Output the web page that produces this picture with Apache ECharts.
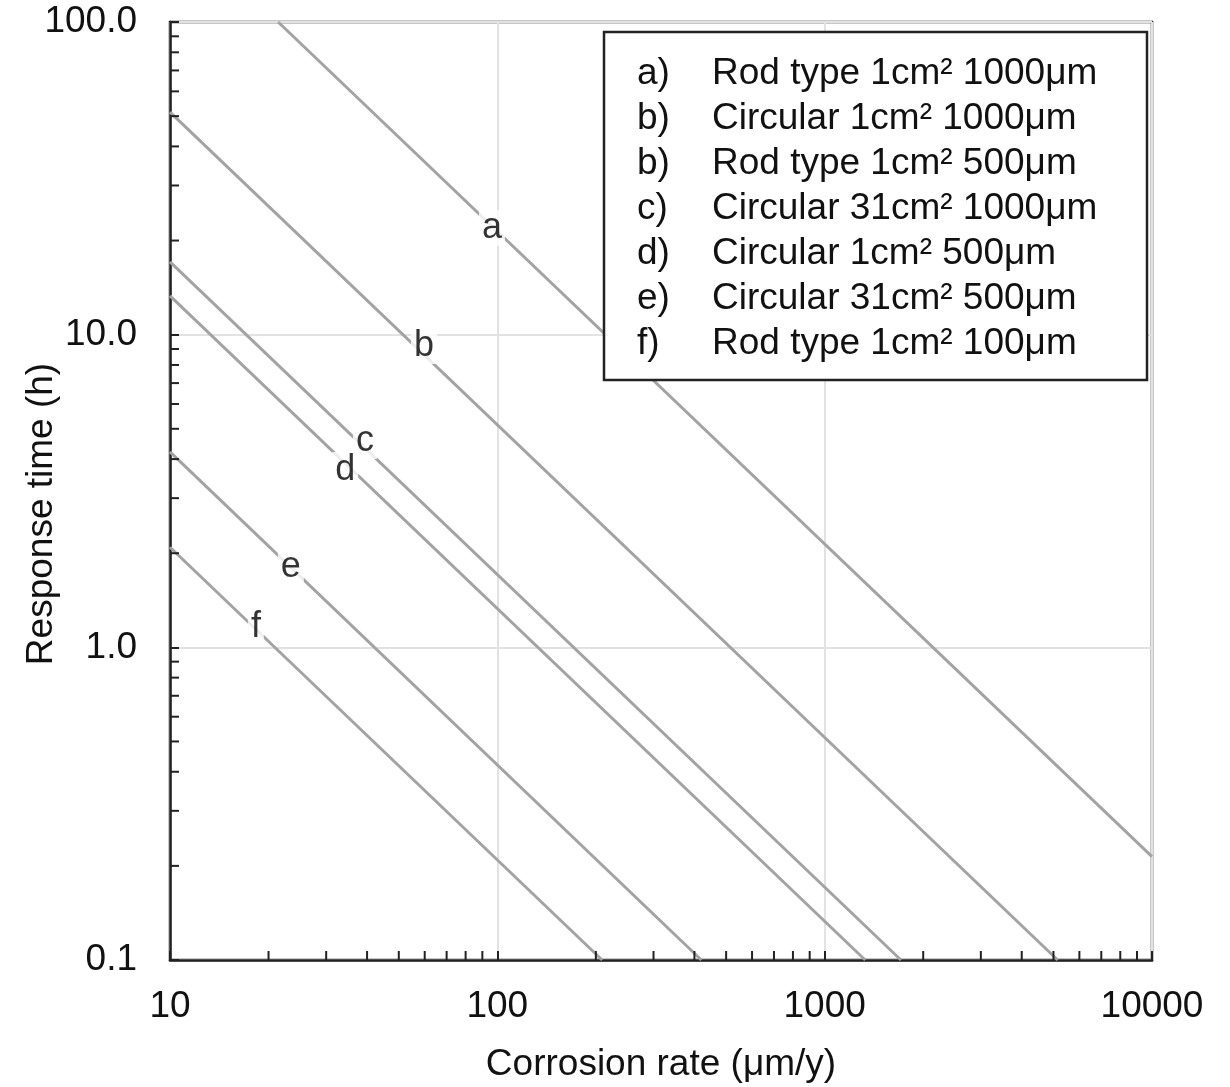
<!DOCTYPE html>
<html>
<head>
<meta charset="utf-8">
<script src="https://cdn.jsdelivr.net/npm/echarts@6/dist/echarts.min.js"></script>
<style>html,body{margin:0;padding:0;background:#fff;overflow:hidden}#c{width:1230px;height:1087px}</style>
</head>
<body>
<div id="c"></div>
<script>
// Line endpoints: [corrosion rate, response time]
const lineA = [[21.4, 100], [10000, 0.214]];
const lineB = [[10, 51.5], [5150, 0.1]];
const lineC = [[10, 17.1], [1710, 0.1]];
const lineD = [[10, 13.3], [1330, 0.1]];
const lineE = [[10, 4.22], [420, 0.1]];
const lineF = [[10, 2.09], [209, 0.1]];
const lineLetters = ['a', 'b', 'c', 'd', 'e', 'f'];
// Letter label positions on the lines
const letterPos = [[96.3, 21.9], [59.7, 9.2], [39.4, 4.57], [34.3, 3.69], [23.4, 1.81], [18.3, 1.16]];
const xTickLabels = ['10', '100', '1000', '10000'];
const yTickLabels = ['0.1', '1.0', '10.0', '100.0'];
const xMinorTicks = [20,30,40,50,60,70,80,90,200,300,400,500,600,700,800,900,2000,3000,4000,5000,6000,7000,8000,9000];
const yMinorTicks = [0.2,0.3,0.4,0.5,0.6,0.7,0.8,0.9,2,3,4,5,6,7,8,9,20,30,40,50,60,70,80,90];
const legendKeys = ['a)', 'b)', 'b)', 'c)', 'd)', 'e)', 'f)'];
const legendTexts = ['Rod type 1cm² 1000μm', 'Circular 1cm² 1000μm', 'Rod type 1cm² 500μm',
  'Circular 31cm² 1000μm', 'Circular 1cm² 500μm', 'Circular 31cm² 500μm', 'Rod type 1cm² 100μm'];

const FONT = 'Liberation Sans, Arial, sans-serif';
const chart = echarts.init(document.getElementById('c'));
const lines = [lineA, lineB, lineC, lineD, lineE, lineF];

const legendChildren = [{
  type: 'rect', z: 100, shape: {x: 0, y: 0, width: 543, height: 348},
  style: {fill: '#fff', stroke: '#222', lineWidth: 2.5}
}];
legendKeys.forEach((k, i) => {
  legendChildren.push({type: 'text', z: 101, x: 33, y: 42 + i * 45,
    style: {text: k, font: '37px ' + FONT, fill: '#111', verticalAlign: 'middle'}});
  legendChildren.push({type: 'text', z: 101, x: 108, y: 42 + i * 45,
    style: {text: legendTexts[i], font: '37px ' + FONT, fill: '#111', verticalAlign: 'middle'}});
});

const series = lines.map((d, i) => ({
  type: 'line', name: lineLetters[i], data: d, showSymbol: false, symbol: 'none',
  lineStyle: {color: '#a3a3a3', width: 3}, z: 3, silent: true
}));
series.push({
  type: 'scatter', symbolSize: 0, z: 5, silent: true,
  data: letterPos.map((p, i) => ({value: p, name: lineLetters[i]})),
  label: {show: true, position: 'inside', formatter: '{b}', fontFamily: FONT, fontSize: 36,
    color: '#000', backgroundColor: '#fff', padding: [0, 3, 0, 3]}
});
series.push({
  type: 'custom', z: 6, silent: true, clip: false,
  data: xMinorTicks.map(v => [v, 0.1]),
  renderItem: (params, api) => {
    const p = api.coord([api.value(0), api.value(1)]);
    return {type: 'line', shape: {x1: p[0], y1: p[1], x2: p[0], y2: p[1] - 9},
      style: {stroke: '#222', lineWidth: 2}};
  }
});
series.push({
  type: 'custom', z: 6, silent: true, clip: false,
  data: yMinorTicks.map(v => [10, v]),
  renderItem: (params, api) => {
    const p = api.coord([api.value(0), api.value(1)]);
    return {type: 'line', shape: {x1: p[0], y1: p[1], x2: p[0] + 9, y2: p[1]},
      style: {stroke: '#222', lineWidth: 2}};
  }
});

chart.setOption({
  animation: false,
  backgroundColor: '#fff',
  grid: {left: 170, right: 78, top: 22, bottom: 127, containLabel: false, outerBoundsMode: 'none',
    show: true, borderColor: '#222', borderWidth: 2.5, backgroundColor: 'transparent'},
  xAxis: {
    type: 'log', logBase: 10, min: 10, max: 10000,
    name: 'Corrosion rate (μm/y)', nameLocation: 'middle', nameGap: 86, nameMoveOverlap: false,
    nameTextStyle: {fontFamily: FONT, fontSize: 37, color: '#111'},
    axisLine: {show: true, lineStyle: {color: '#222', width: 2.5}},
    axisTick: {show: true, inside: true, length: 9, lineStyle: {color: '#222', width: 2}},
    minorTick: {show: false},
    splitLine: {show: true, lineStyle: {color: '#e2e2e2', width: 2}},
    axisLabel: {fontFamily: FONT, fontSize: 37, color: '#111', margin: 28,
      formatter: v => xTickLabels[Math.round(Math.log10(v)) - 1]}
  },
  yAxis: {
    type: 'log', logBase: 10, min: 0.1, max: 100,
    name: 'Response time (h)', nameLocation: 'middle', nameGap: 110, nameMoveOverlap: false,
    nameTextStyle: {fontFamily: FONT, fontSize: 37, color: '#111', padding: [0, 46, 0, 0]},
    axisLine: {show: true, lineStyle: {color: '#222', width: 2.5}},
    axisTick: {show: true, inside: true, length: 9, lineStyle: {color: '#222', width: 2}},
    splitLine: {show: true, lineStyle: {color: '#e2e2e2', width: 2}},
    axisLabel: {fontFamily: FONT, fontSize: 37, color: '#111', margin: 33,
      formatter: v => yTickLabels[Math.round(Math.log10(v)) + 1]}
  },
  graphic: [{type: 'group', x: 604, y: 32, z: 100, children: legendChildren}],
  series: series
});
</script>
</body>
</html>
